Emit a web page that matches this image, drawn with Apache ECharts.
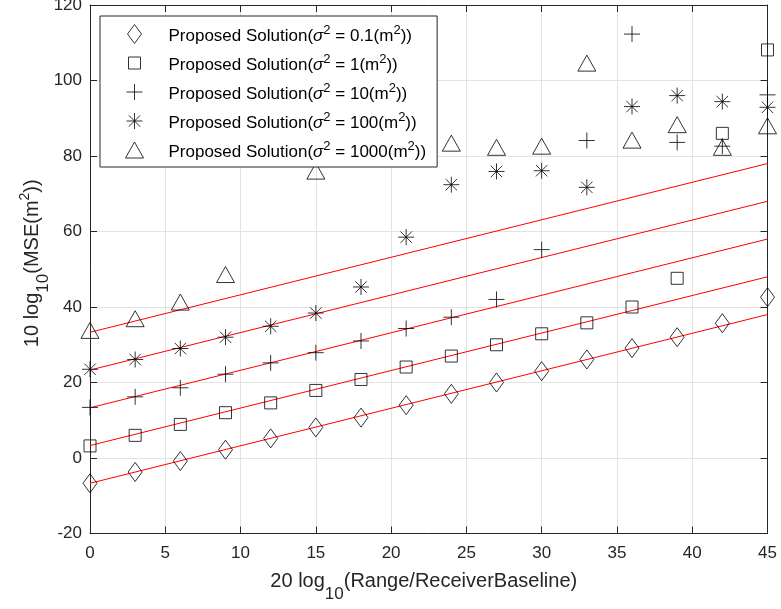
<!DOCTYPE html>
<html><head><meta charset="utf-8">
<script src="https://cdn.jsdelivr.net/npm/echarts@6/dist/echarts.min.js"></script>
<style>html,body{margin:0;padding:0;background:#fff}#c{width:781px;height:609px}</style>
</head><body><div id="c"></div>
<script>
// ---- data ----
const xValues = [0, 3, 6, 9, 12, 15, 18, 21, 24, 27, 30, 33, 36, 39, 42, 45];
const sigmaLabels = ['0.1', '1', '10', '100', '1000'];
const diamondVals  = [-6.7, -3.7, -0.8, 2.2, 5.2, 8.1, 10.7, 14.0, 17.0, 20.0, 23.0, 26.1, 29.1, 32.0, 35.7, 42.6];
const squareVals   = [3.2, 6.0, 8.9, 12.0, 14.6, 17.9, 20.8, 24.1, 27.0, 30.0, 32.9, 35.8, 40.0, 47.6, 86.0, 108.1];
const plusVals     = [13.4, 16.2, 18.6, 22.2, 25.2, 27.9, 31.0, 34.3, 37.3, 42.0, 55.2, 84.1, 112.3, 83.6, 82.6, 96.2];
const asteriskVals = [23.5, 26.1, 29.0, 32.0, 34.9, 38.4, 45.3, 58.5, 72.4, 75.9, 76.1, 71.7, 93.1, 96.0, 94.4, 92.9];
const triangleVals = [33.8, 36.9, 41.3, 48.6, null, 76.0, null, null, 83.4, 82.3, 82.6, 104.6, 84.2, 88.3, 82.3, 88.0];
const lineX = [0, 45];
const lineStarts = [-6.7, 3.3, 13.3, 23.3, 33.3];
const lineEnds   = [38.0, 48.0, 58.0, 68.0, 78.0];
const xTickMin = 0, xTickMax = 45, xTickStep = 5;
const yTickMin = -20, yTickMax = 120, yTickStep = 20;

// ---- styling ----
const FONT = "'Liberation Sans', Arial, Helvetica, sans-serif";
const AX = '#262626';
const GRIDC = '#e3e3e3';
const symbols = [
  'path://M0,0M20,20M10,0.5L17,10L10,19.5L3,10Z',
  'path://M0,0M20,20M4,4L16,4L16,16L4,16Z',
  'path://M0,0M20,20M2,10L18,10M10,2L10,18',
  'path://M0,0M20,20M2,10L18,10M10,2L10,18M4.3,4.3L15.7,15.7M4.3,15.7L15.7,4.3',
  'path://M0,0M20,20M10,2L19,18L1,18Z'
];
const seriesVals = [diamondVals, squareVals, plusVals, asteriskVals, triangleVals];
const names = sigmaLabels.map(s => 'Proposed Solution(\u03c3^2 = ' + s + '(m^2))');

const hollow = {color: 'rgba(0,0,0,0)', borderColor: '#000', borderWidth: 1};

const series = [];
lineStarts.forEach((s, k) => {
  series.push({
    type: 'line', name: 'fit' + k, silent: true, z: 1,
    data: [[lineX[0], s], [lineX[1], lineEnds[k]]],
    symbol: 'none', lineStyle: {color: '#ff0000', width: 1}
  });
});
seriesVals.forEach((vals, i) => {
  series.push({
    type: 'scatter', name: names[i], silent: true, z: 3,
    symbol: symbols[i], symbolSize: 20,
    itemStyle: hollow,
    data: xValues.map((x, j) => [x, vals[j]]).filter(p => p[1] != null)
  });
});

function axisCommon(extra) {
  return Object.assign({
    type: 'value',
    axisLine: {show: true, onZero: false, lineStyle: {color: AX, width: 1}},
    axisTick: {show: true, inside: true, length: 7, lineStyle: {color: AX, width: 1}},
  }, extra);
}

const option = {
  animation: false,
  backgroundColor: '#fff',
  textStyle: {fontFamily: FONT},
  grid: {left: 90, right: 13.5, top: 5, bottom: 75.5, containLabel: false, outerBoundsMode: 'none'},
  xAxis: [
    axisCommon({
      position: 'bottom', min: xTickMin, max: xTickMax, interval: xTickStep,
      axisLabel: {color: AX, fontSize: 17, fontFamily: FONT, margin: 11},
      splitLine: {show: true, lineStyle: {color: GRIDC, width: 1}},
      name: '20 log{sub|10}(Range/ReceiverBaseline)',
      nameLocation: 'middle', nameGap: 27, nameMoveOverlap: false,
      nameTextStyle: {color: AX, fontSize: 20, fontFamily: FONT, lineHeight: 42, padding: [0, 10, 0, 0],
        rich: {sub: {fontSize: 17, fontFamily: FONT, color: AX, verticalAlign: 'bottom'}}}
    }),
    axisCommon({
      position: 'top', min: xTickMin, max: xTickMax, interval: xTickStep,
      axisLabel: {show: false}, splitLine: {show: false}
    })
  ],
  yAxis: [
    axisCommon({
      position: 'left', min: yTickMin, max: yTickMax, interval: yTickStep,
      axisLabel: {color: AX, fontSize: 17, fontFamily: FONT, margin: 8},
      splitLine: {show: true, lineStyle: {color: GRIDC, width: 1}},
      name: '10 log{sub|10}(MSE(m{sup|2}))',
      nameLocation: 'middle', nameRotate: 90, nameGap: 38, nameMoveOverlap: false,
      nameTextStyle: {color: AX, fontSize: 20, fontFamily: FONT, lineHeight: 39, padding: [0, 0, 0, 12],
        rich: {
          sub: {fontSize: 17, fontFamily: FONT, color: AX, verticalAlign: 'bottom'},
          sup: {fontSize: 14, fontFamily: FONT, color: AX, verticalAlign: 'top', padding: [5.5, 0, 0, 0]}
        }}
    }),
    axisCommon({
      position: 'right', min: yTickMin, max: yTickMax, interval: yTickStep,
      axisLabel: {show: false}, splitLine: {show: false}
    })
  ],
  legend: {
    orient: 'vertical', left: 100, top: 16,
    padding: [4, 11, 3, 24],
    itemWidth: 20, itemHeight: 20, itemGap: 1,
    backgroundColor: '#fff', borderColor: AX, borderWidth: 1, borderRadius: 0,
    selectedMode: false, z: 10,
    data: names.map((n, i) => ({name: n, icon: symbols[i], itemStyle: hollow})),
    itemStyle: {borderWidth: 1},
    formatter: function (n) {
      return n.replace('\u03c3^2', '{sig|\u03c3}{sup|2}').replace('m^2', 'm{sup|2}');
    },
    textStyle: {
      fontFamily: FONT, fontSize: 17, color: '#000', lineHeight: 24, padding: [4, 0, 0, 19],
      rich: {
        sup: {fontFamily: FONT, fontSize: 13, color: '#000', verticalAlign: 'top'},
        sig: {fontFamily: FONT, fontSize: 17, color: '#000', fontStyle: 'italic'}
      }
    }
  },
  series: series
};

const chart = echarts.init(document.getElementById('c'), null, {renderer: 'canvas'});
chart.setOption(option);
</script>
</body></html>
